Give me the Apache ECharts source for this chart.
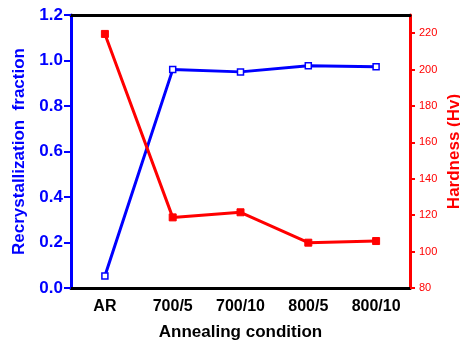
<!DOCTYPE html>
<html>
<head>
<meta charset="utf-8">
<script src="https://cdn.jsdelivr.net/npm/echarts@6/dist/echarts.min.js"></script>
<style>
  html, body { margin: 0; padding: 0; background: #fff; }
  #chart { width: 460px; height: 343px; }
</style>
</head>
<body>
<div id="chart"></div>
<script>
// annealing conditions on the x axis
var conditions = ['AR', '700/5', '700/10', '800/5', '800/10'];
// recrystallization fraction (left axis)
var fraction = [0.053, 0.96, 0.95, 0.977, 0.973];
// hardness in Hv (right axis)
var hardness = [219.6, 118.8, 121.6, 104.9, 105.8];

var FONT = 'Liberation Sans, Arial, sans-serif';
var BLUE = '#0000ff';
var RED = '#ff0000';

var myChart = echarts.init(document.getElementById('chart'));

var option = {
  animation: false,
  backgroundColor: '#fff',
  grid: { left: 71, right: 50, top: 15, bottom: 55, outerBoundsMode: 'none', containLabel: false },
  xAxis: [
    {
      type: 'category',
      data: conditions,
      boundaryGap: true,
      name: 'Annealing condition',
      nameLocation: 'middle',
      nameGap: 36,
      nameMoveOverlap: false,
      nameTextStyle: { fontFamily: FONT, fontSize: 17, fontWeight: 'bold', color: '#000' },
      axisLine: { lineStyle: { color: '#000', width: 3 } },
      axisTick: { alignWithLabel: true, length: 6, lineStyle: { color: '#000', width: 2 } },
      axisLabel: { fontFamily: FONT, fontSize: 16, fontWeight: 'bold', color: '#000', margin: 11 }
    },
    {
      type: 'category',
      data: conditions,
      position: 'top',
      axisLine: { lineStyle: { color: '#000', width: 3 } },
      axisTick: { show: false },
      axisLabel: { show: false }
    }
  ],
  yAxis: [
    {
      type: 'value',
      min: 0,
      max: 1.2,
      interval: 0.2,
      name: 'Recrystallization  fraction',
      nameLocation: 'middle',
      nameGap: 43,
      nameMoveOverlap: false,
      nameTextStyle: { fontFamily: FONT, fontSize: 17, fontWeight: 'bold', color: BLUE },
      splitLine: { show: false },
      axisLine: { show: true, lineStyle: { color: BLUE, width: 3 } },
      axisTick: { show: true, length: 7, lineStyle: { color: BLUE, width: 2 } },
      axisLabel: {
        fontFamily: FONT, fontSize: 17, fontWeight: 'bold', color: BLUE, margin: 8,
        formatter: function (v) { return v.toFixed(1); }
      }
    },
    {
      type: 'value',
      position: 'right',
      min: 80,
      max: 230,
      interval: 20,
      name: 'Hardness (Hv)',
      nameLocation: 'middle',
      nameGap: 36,
      nameMoveOverlap: false,
      nameRotate: 90,
      nameTextStyle: { fontFamily: FONT, fontSize: 17, fontWeight: 'bold', color: RED },
      splitLine: { show: false },
      axisLine: { show: true, lineStyle: { color: RED, width: 3 } },
      axisTick: { show: true, length: 5, lineStyle: { color: RED, width: 2 } },
      axisLabel: { fontFamily: FONT, fontSize: 11, color: RED, margin: 9, showMaxLabel: false }
    }
  ],
  series: [
    {
      name: 'Recrystallization fraction',
      type: 'line',
      yAxisIndex: 0,
      data: fraction,
      symbol: 'rect',
      symbolSize: 6,
      lineStyle: { color: BLUE, width: 3 },
      itemStyle: { color: '#fff', borderColor: BLUE, borderWidth: 1.5 }
    },
    {
      name: 'Hardness',
      type: 'line',
      yAxisIndex: 1,
      data: hardness,
      symbol: 'rect',
      symbolSize: 7,
      lineStyle: { color: RED, width: 3 },
      itemStyle: { color: RED, borderColor: RED }
    }
  ]
};

myChart.setOption(option);
</script>
</body>
</html>
